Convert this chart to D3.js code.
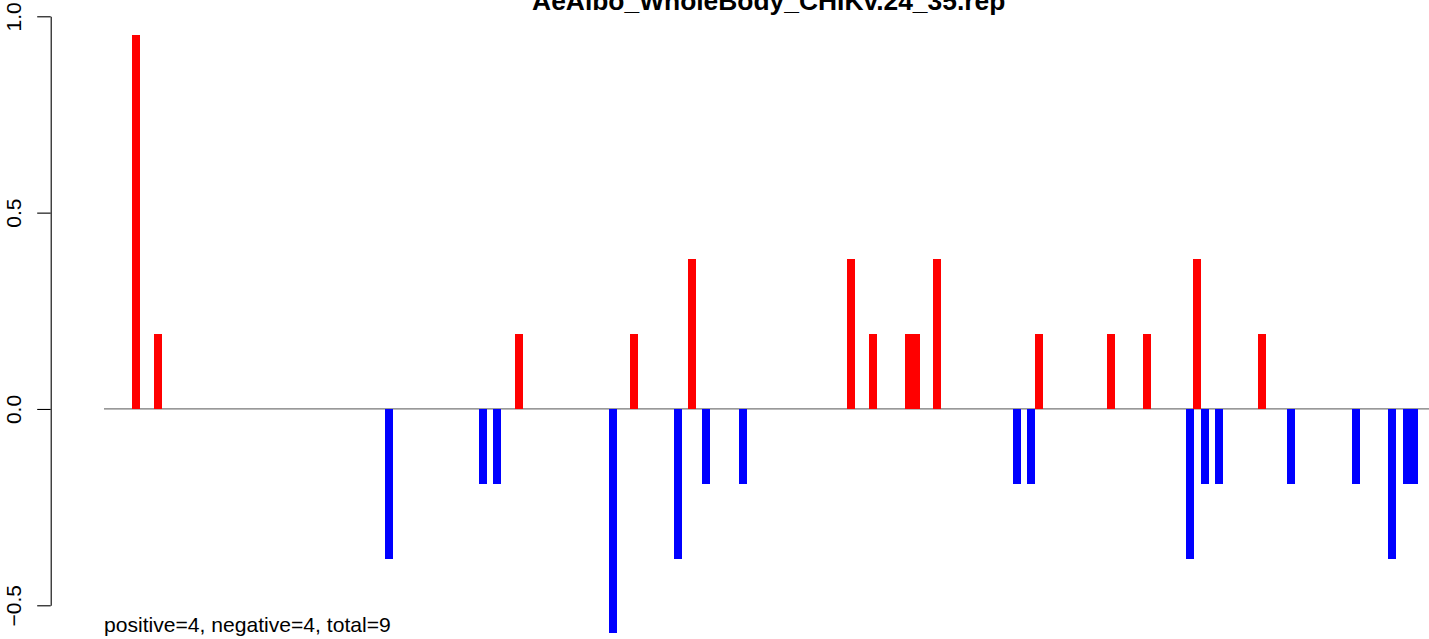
<!DOCTYPE html>
<html>
<head>
<meta charset="utf-8">
<script src="https://cdn.jsdelivr.net/npm/d3@7"></script>
<style>
  html, body { margin: 0; padding: 0; background: #fff; }
  svg { display: block; }
  text { font-family: "Liberation Sans", Arial, Helvetica, sans-serif; }
</style>
</head>
<body>
<svg id="chart" width="1429" height="639"></svg>
<script>
// ---- data ----
const title = "AeAlbo_WholeBody_CHIKv.24_35.rep";
const summary = "positive=4, negative=4, total=9";
const positions = [5, 8, 40, 53, 55, 58, 71, 74, 80, 82, 84, 89, 104, 107, 112, 113, 116,
                   127, 129, 130, 140, 145, 151, 152, 153, 155, 161, 165, 174, 179, 181, 182];
const values = [0.952, 0.190, -0.381, -0.190, -0.190, 0.190, -0.571, 0.190, -0.381, 0.381,
                -0.190, -0.190, 0.381, 0.190, 0.190, 0.190, 0.381, -0.190, -0.190, 0.190,
                0.190, 0.190, -0.381, 0.381, -0.190, -0.190, 0.190, -0.190, -0.190, -0.381,
                -0.190, -0.190];
const xExtent = [0.57, 184.07];
const yTicks = [-0.5, 0, 0.5, 1.0];
const yTickLabels = ["\u22120.5", "0.0", "0.5", "1.0"];

// ---- drawing ----
const svg = d3.select("#chart");
const x = d3.scaleLinear().domain(xExtent).range([104, 1429]);
const y = d3.scaleLinear().domain([-0.5, 1.0]).range([605.3, 16.3]);
const axisX = 50.7;

// zero line
svg.append("line")
  .attr("x1", x(xExtent[0])).attr("x2", x(xExtent[1]))
  .attr("y1", y(0)).attr("y2", y(0))
  .attr("stroke", "#777").attr("stroke-width", 1.2);

// bars
const data = positions.map((p, i) => ({ p, v: values[i] }));
svg.append("g").selectAll("rect").data(data).join("rect")
  .attr("x", d => x(d.p) - 4)
  .attr("width", 8)
  .attr("y", d => y(Math.max(d.v, 0)))
  .attr("height", d => Math.abs(y(d.v) - y(0)))
  .attr("fill", d => d.v >= 0 ? "#ff0000" : "#0000ff")
  .attr("shape-rendering", "crispEdges");

// y axis
const yAxis = d3.axisLeft(y)
  .tickValues(yTicks)
  .tickFormat((d, i) => yTickLabels[i])
  .tickSize(13.5)
  .tickSizeOuter(0);
const gy = svg.append("g").attr("transform", `translate(${axisX},0)`).call(yAxis);
gy.select(".domain").attr("stroke", "#000").attr("stroke-width", 1.1);
gy.selectAll(".tick line").attr("stroke", "#000").attr("stroke-width", 1.1);
gy.selectAll(".tick text")
  .attr("transform", "rotate(-90)")
  .attr("x", 0).attr("y", -30).attr("dy", 0)
  .attr("text-anchor", "middle")
  .attr("fill", "#000")
  .style("font-size", "21px")
  .style("font-family", "'Liberation Sans', Arial, sans-serif");

// title
svg.append("text")
  .attr("x", 768.7).attr("y", 9.5)
  .attr("text-anchor", "middle")
  .style("font-size", "26.4px").style("font-weight", "bold")
  .attr("fill", "#000")
  .text(title);

// summary
svg.append("text")
  .attr("x", 104).attr("y", 632)
  .style("font-size", "21.1px")
  .attr("fill", "#000")
  .text(summary);
</script>
</body>
</html>
